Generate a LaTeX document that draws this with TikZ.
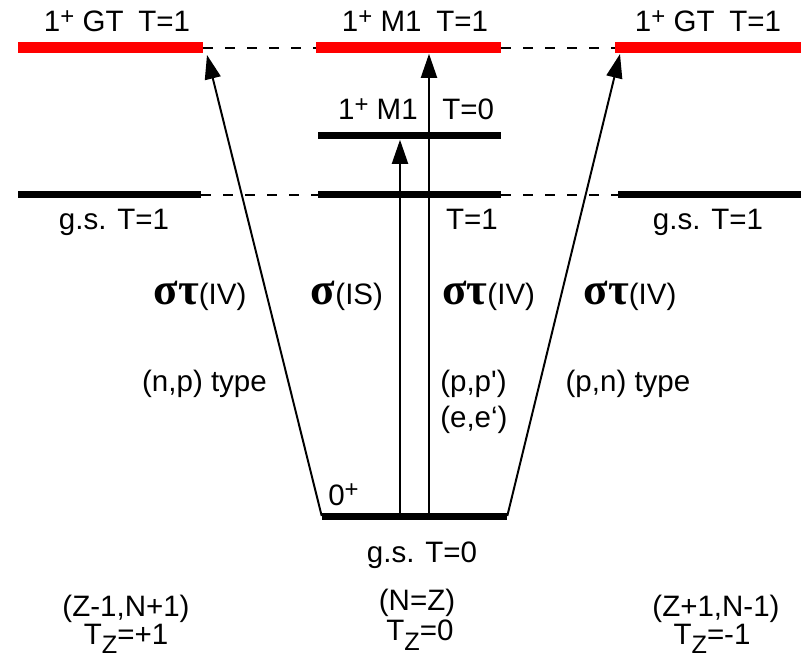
\documentclass[tikz,border=0pt]{standalone}
\usepackage{fontspec}
\setmainfont{Liberation Sans}
\newfontfamily\grk{Liberation Serif}
\usetikzlibrary{arrows.meta}

\newcommand{\sups}[1]{\raisebox{5.5pt}{\fontsize{17}{17}\selectfont #1}}
\newcommand{\tzsub}{T\raisebox{-7pt}{\fontsize{18}{18}\selectfont Z}}
\newcommand{\st}{{\grk\bfseries\fontsize{32}{32}\selectfont στ}}
\newcommand{\sg}{{\grk\bfseries\fontsize{32}{32}\selectfont σ}}

\tikzset{
	redlvl/.style={shape=rectangle, fill=red, minimum height=0.275cm, inner sep=0pt},
	blklvl/.style={shape=rectangle, fill=black, minimum height=0.175cm, inner sep=0pt},
	lbl/.style={inner sep=0pt, anchor=base, font=\fontsize{21}{25}\selectfont},
	trans/.style={line width=1.4pt, -{Triangle[length=0.6cm, width=0.4cm]}},
	tie/.style={line width=0.8pt, dash pattern=on 0.25cm off 0.3cm}
}

\begin{document}
\begin{tikzpicture}
	\useasboundingbox (0, 0) rectangle (20.025, 16.5);
	% Levels:
	\node[redlvl, minimum width=4.625cm] (gtL) at (2.7625, 15.3){};
	\node[redlvl, minimum width=4.625cm] (m1T1) at (10.2125, 15.3){};
	\node[redlvl, minimum width=4.65cm] (gtR) at (17.7, 15.3){};
	\node[blklvl, minimum width=4.575cm] (m1T0) at (10.2375, 13.1){};
	\node[blklvl, minimum width=4.575cm] (gsL) at (2.7375, 11.625){};
	\node[blklvl, minimum width=4.575cm] (gsM) at (10.2375, 11.625){};
	\node[blklvl, minimum width=4.575cm] (gsR) at (17.7375, 11.625){};
	\node[blklvl, minimum width=4.625cm] (gs0) at (10.3625, 3.6){};
	% Dashed ties:
	\draw[tie] (gtL.east) -- (m1T1.west);
	\draw[tie] (m1T1.east) -- (gtR.west);
	\draw[tie] (gsL.east) -- (gsM.west);
	\draw[tie] (gsM.east) -- (gsR.west);
	% Transitions:
	\coordinate (tipL) at (5.175, 15.125);
	\coordinate (tipR) at (15.5, 15.15);
	\coordinate (isA) at (10, 3.6);
	\coordinate (ivA) at (10.725, 3.6);
	\draw[trans] (gs0.west) -- (tipL);
	\draw[trans] (gs0.east) -- (tipR);
	\draw[trans] (isA) -- (isA |- m1T0.south);
	\draw[trans] (ivA) -- (ivA |- m1T1.south);
	% Labels:
	\node[lbl] (tGTL) at (2.925, 15.7){1\sups{+} GT\hspace{0.5em}T=1};
	\node[lbl] (tM1) at (10.375, 15.7){1\sups{+} M1\hspace{0.5em}T=1};
	\node[lbl] (tGTR) at (17.7, 15.7){1\sups{+} GT\hspace{0.5em}T=1};
	\node[lbl, anchor=base east] (tM0) at (10.45, 13.5){1\sups{+} M1};
	\node[lbl, anchor=base west] (tT0) at (11.05, 13.5){T=0};
	\node[lbl] (tgsL) at (2.85, 10.75){g.s. T=1};
	\node[lbl] (tgsM) at (11.8, 10.75){T=1};
	\node[lbl] (tgsR) at (17.7, 10.75){g.s. T=1};
	\node[lbl] (opL) at (5.0, 8.9){\st(IV)};
	\node[lbl] (opIS) at (8.675, 8.9){\sg(IS)};
	\node[lbl, anchor=base west] (opM) at (11.05, 8.9){\st(IV)};
	\node[lbl] (opR) at (15.75, 8.9){\st(IV)};
	\node[lbl] (npT) at (5.1125, 6.7){(n,p) type};
	\node[lbl, anchor=base west] (ppT) at (11.0, 6.7){\addfontfeatures{Ligatures=TeXOff}(p,p')};
	\node[lbl, anchor=base west] (eeT) at (11.0, 5.8){(e,e‘)};
	\node[lbl] (pnT) at (15.7, 6.7){(p,n) type};
	\node[lbl, anchor=base west] (zpT) at (8.2, 3.875){0\sups{+}};
	\node[lbl] (tgs0) at (10.55, 2.45){g.s. T=0};
	\node[lbl] (nucL) at (3.15, 1.1){(Z-1,N+1)};
	\node[lbl] (tzL) at (3.15, 0.4){\tzsub=+1};
	\node[lbl] (nucM) at (10.425, 1.25){(N=Z)};
	\node[lbl] (tzM) at (10.5, 0.48){\tzsub=0};
	\node[lbl] (nucR) at (17.9, 1.1){(Z+1,N-1)};
	\node[lbl] (tzR) at (17.8, 0.4){\tzsub=-1};
\end{tikzpicture}
\end{document}
